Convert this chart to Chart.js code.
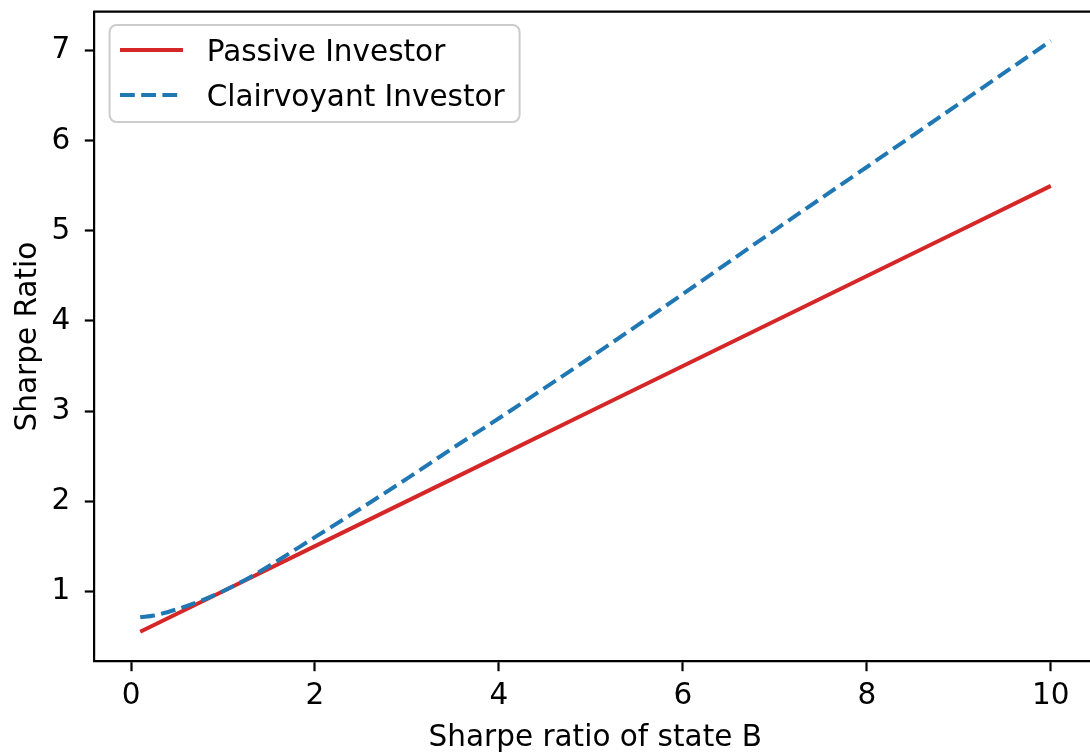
<!DOCTYPE html>
<html>
<head>
<meta charset="utf-8">
<script src="https://cdn.jsdelivr.net/npm/chart.js@4.4.1/dist/chart.umd.min.js"></script>
<style>
  html, body { margin: 0; padding: 0; background: #ffffff; overflow: hidden; width: 1090px; height: 752px; }
  #wrap { position: relative; width: 1100px; height: 752px; }
  canvas { display: block; }
</style>
</head>
<body>
<div id="wrap"><canvas id="c" width="1100" height="752"></canvas></div>
<script>
// Sharpe ratio of state B (x) versus overall Sharpe ratio (y)
const passiveX = [0.1, 1, 2, 3, 4, 5, 6, 7, 8, 9, 10];
const passiveY = [0.55, 1.0, 1.5, 2.0, 2.5, 3.0, 3.5, 4.0, 4.5, 5.0, 5.5];

const clairvoyantX = [0.1, 0.25, 0.5, 0.75, 1, 1.25, 1.5, 2, 2.5, 3, 3.5, 4, 5, 6, 7, 8, 9, 10];
const clairvoyantY = [0.71, 0.73, 0.80, 0.89, 1.00, 1.13, 1.28, 1.60, 1.92, 2.25, 2.59, 2.92, 3.60, 4.30, 5.01, 5.71, 6.41, 7.11];

const xTicks = [0, 2, 4, 6, 8, 10];
const yTicks = [1, 2, 3, 4, 5, 6, 7];

const seriesLabels = ['Passive Investor', 'Clairvoyant Investor'];
const RED = '#d62728';
const BLUE = '#1f77b4';
const FONT_FAMILY = 'DejaVu Sans';
const FONT_SIZE = 29.5;
const FONT = { family: FONT_FAMILY, size: FONT_SIZE };

const toPoints = (xs, ys) => xs.map((x, i) => ({ x: x, y: ys[i] }));

// Top spine of the axes frame
const frameTop = {
  id: 'frameTop',
  afterDraw(chart) {
    const { ctx, chartArea } = chart;
    ctx.save();
    ctx.strokeStyle = '#000';
    ctx.lineWidth = 2.2;
    ctx.beginPath();
    ctx.moveTo(chartArea.left - 1.1, chartArea.top);
    ctx.lineTo(chartArea.right + 1.1, chartArea.top);
    ctx.stroke();
    ctx.restore();
  }
};

// Boxed legend in the upper-left corner of the plot
const boxLegend = {
  id: 'boxLegend',
  afterDatasetsDraw(chart) {
    const { ctx } = chart;
    const bx = 109.6, by = 25, bw = 410, bh = 97, r = 7;
    ctx.save();
    ctx.beginPath();
    ctx.moveTo(bx + r, by);
    ctx.lineTo(bx + bw - r, by);
    ctx.arcTo(bx + bw, by, bx + bw, by + r, r);
    ctx.lineTo(bx + bw, by + bh - r);
    ctx.arcTo(bx + bw, by + bh, bx + bw - r, by + bh, r);
    ctx.lineTo(bx + r, by + bh);
    ctx.arcTo(bx, by + bh, bx, by + bh - r, r);
    ctx.lineTo(bx, by + r);
    ctx.arcTo(bx, by, bx + r, by, r);
    ctx.closePath();
    ctx.fillStyle = 'rgba(255,255,255,0.8)';
    ctx.fill();
    ctx.strokeStyle = '#cccccc';
    ctx.lineWidth = 2;
    ctx.stroke();

    const lineRows = [50, 95];
    const textBaselines = [61, 106];
    chart.data.datasets.forEach((ds, i) => {
      const y = lineRows[i];
      ctx.beginPath();
      ctx.strokeStyle = ds.borderColor;
      ctx.lineWidth = ds.borderWidth;
      ctx.lineCap = 'butt';
      ctx.setLineDash(ds.borderDash || []);
      ctx.moveTo(120, y);
      ctx.lineTo(183, y);
      ctx.stroke();
      ctx.setLineDash([]);
      ctx.fillStyle = '#000';
      ctx.font = FONT_SIZE + 'px "' + FONT_FAMILY + '"';
      ctx.textBaseline = 'alphabetic';
      ctx.textAlign = 'left';
      ctx.fillText(ds.label, 206.7, textBaselines[i]);
    });
    ctx.restore();
  }
};

new Chart(document.getElementById('c'), {
  type: 'line',
  data: {
    datasets: [
      {
        label: seriesLabels[0],
        data: toPoints(passiveX, passiveY),
        borderColor: RED,
        borderWidth: 4,
        pointRadius: 0,
        tension: 0,
        fill: false,
        order: 1
      },
      {
        label: seriesLabels[1],
        data: toPoints(clairvoyantX, clairvoyantY),
        borderColor: BLUE,
        borderWidth: 4,
        borderDash: [14.8, 6.4],
        borderCapStyle: 'butt',
        pointRadius: 0,
        cubicInterpolationMode: 'monotone',
        fill: false,
        order: 0
      }
    ]
  },
  options: {
    responsive: false,
    animation: false,
    devicePixelRatio: 1,
    events: [],
    layout: { padding: { left: 0, top: 0, right: 4, bottom: 0 } },
    plugins: {
      legend: { display: false },
      tooltip: { enabled: false }
    },
    scales: {
      x: {
        type: 'linear',
        min: -0.397,
        max: 10.491,
        afterBuildTicks: (s) => { s.ticks = xTicks.map(v => ({ value: v })); },
        afterFit: (s) => { s.height = 90.5; s.paddingLeft = 0; s.paddingRight = 0; },
        ticks: {
          font: FONT,
          color: '#000',
          padding: 7.3,
          maxRotation: 0,
          autoSkip: false,
          callback: (v) => String(v)
        },
        grid: {
          display: true,
          drawOnChartArea: false,
          drawTicks: true,
          tickLength: 9.7,
          tickWidth: 2.2,
          tickColor: '#000'
        },
        border: { display: true, color: '#000', width: 2.2 },
        title: {
          display: true,
          text: 'Sharpe ratio of state B',
          font: { family: FONT_FAMILY, size: FONT_SIZE, lineHeight: 0.9 },
          color: '#000',
          padding: { top: 0, bottom: 0 }
        }
      },
      y: {
        type: 'linear',
        min: 0.2195,
        max: 7.434,
        afterBuildTicks: (s) => { s.ticks = yTicks.map(v => ({ value: v })); },
        afterFit: (s) => { s.width = 94.5; s.paddingTop = 11.7; s.paddingBottom = 0; },
        ticks: {
          font: FONT,
          color: '#000',
          padding: 14.5,
          autoSkip: false,
          callback: (v) => String(v)
        },
        grid: {
          display: true,
          drawOnChartArea: false,
          drawTicks: true,
          tickLength: 9.7,
          tickWidth: 2.2,
          tickColor: '#000'
        },
        border: { display: true, color: '#000', width: 2.2 },
        title: {
          display: true,
          text: 'Sharpe Ratio',
          font: FONT,
          color: '#000',
          padding: { top: 11, bottom: 0 }
        }
      }
    }
  },
  plugins: [frameTop, boxLegend]
});
</script>
</body>
</html>
